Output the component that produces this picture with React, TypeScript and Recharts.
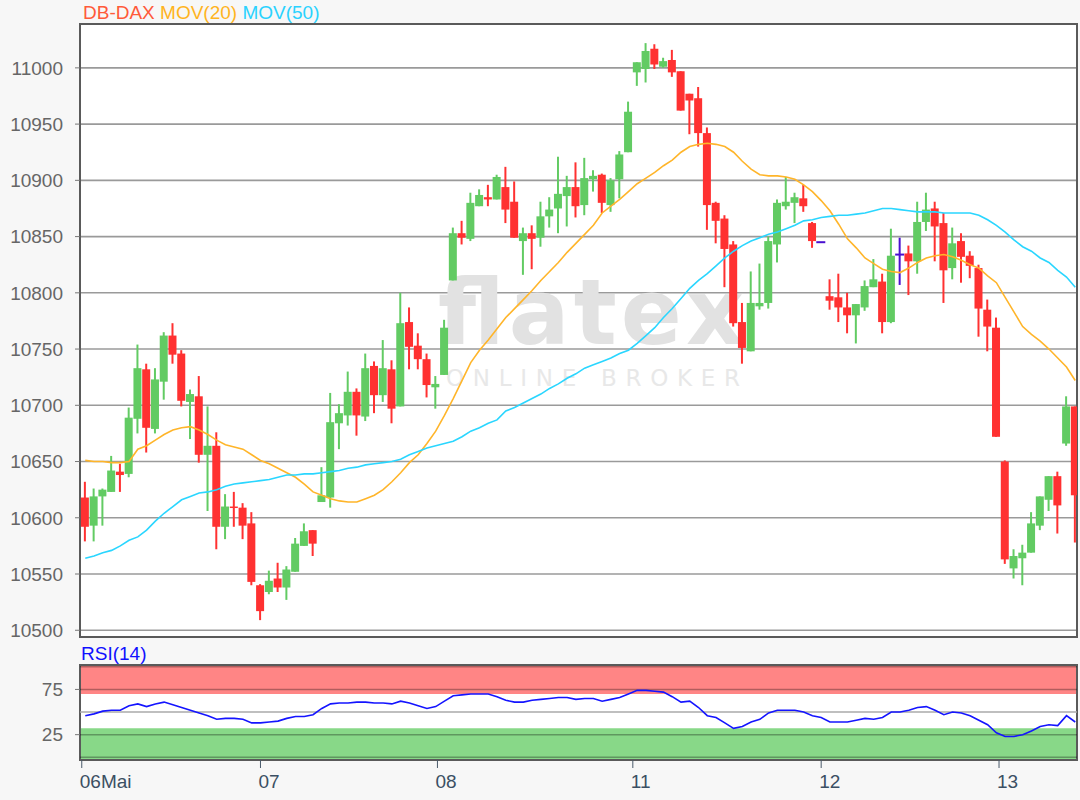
import {
  Bar,
  CartesianGrid,
  ComposedChart,
  Line,
  ReferenceArea,
  ReferenceLine,
  XAxis,
  YAxis,
} from "recharts"

/* ---------- data ---------- */

const opens = [
  10618, 10593, 10619, 10623, 10641, 10639, 10688, 10732, 10679, 10721,
  10762, 10746, 10703, 10708, 10656, 10664, 10592, 10610, 10609, 10595,
  10540, 10534, 10546, 10538, 10552, 10575, 10589, 10614, 10618, 10684,
  10691, 10712, 10690, 10735, 10709, 10732, 10699, 10774, 10753, 10741,
  10716, 10727, 10811, 10853, 10848, 10877, 10885, 10883, 10894, 10881,
  10846, 10853, 10849, 10868, 10875, 10886, 10894, 10878, 10901, 10905,
  10878, 10901, 10925, 10996, 10999, 11017, 11001, 11007, 10997, 10977,
  10973, 10942, 10880, 10866, 10843, 10774, 10748, 10788, 10791, 10843,
  10877, 10880, 10884, 10862, 10845, 10797, 10796, 10787, 10780, 10787,
  10805, 10810, 10774, 10834, 10835, 10828, 10863, 10875, 10862, 10822,
  10846, 10833, 10822, 10785, 10769, 10650, 10555, 10564, 10569, 10593,
  10616, 10637, 10666, 10699,
]

const highs = [
  10632, 10626, 10626, 10655, 10648, 10698, 10754, 10737, 10733, 10765,
  10773, 10749, 10714, 10726, 10699, 10676, 10621, 10623, 10613, 10605,
  10541, 10553, 10560, 10557, 10582, 10595, 10589, 10645, 10711, 10701,
  10730, 10715, 10746, 10739, 10758, 10740, 10800, 10787, 10764, 10746,
  10726, 10776, 10858, 10864, 10889, 10892, 10896, 10905, 10912, 10899,
  10858, 10860, 10881, 10885, 10921, 10904, 10916, 10920, 10909, 10906,
  10902, 10926, 10970, 11005, 11022, 11021, 11009, 11016, 10997, 10977,
  10983, 10947, 10881, 10869, 10846, 10791, 10819, 10826, 10850, 10883,
  10903, 10889, 10896, 10863, 10845, 10812, 10817, 10800, 10790, 10811,
  10830, 10817, 10857, 10849, 10842, 10881, 10889, 10881, 10871, 10858,
  10853, 10837, 10825, 10794, 10778, 10651, 10572, 10576, 10605, 10619,
  10637, 10641, 10708, 10699,
]

const lows = [
  10579, 10579, 10593, 10623, 10623, 10636, 10675, 10658, 10675, 10705,
  10737, 10699, 10670, 10649, 10606, 10572, 10581, 10592, 10581, 10540,
  10509, 10532, 10534, 10527, 10552, 10575, 10566, 10614, 10609, 10661,
  10682, 10673, 10686, 10693, 10703, 10684, 10699, 10732, 10732, 10707,
  10697, 10727, 10811, 10843, 10846, 10877, 10877, 10883, 10862, 10849,
  10816, 10821, 10841, 10858, 10853, 10859, 10867, 10869, 10890, 10871,
  10872, 10884, 10925, 10984, 10987, 10999, 11000, 10992, 10962, 10941,
  10930, 10856, 10844, 10805, 10770, 10737, 10748, 10785, 10786, 10827,
  10874, 10862, 10872, 10840, 10845, 10785, 10774, 10764, 10755, 10784,
  10805, 10764, 10773, 10807, 10798, 10817, 10855, 10828, 10791, 10812,
  10809, 10813, 10761, 10748, 10672, 10559, 10546, 10540, 10569, 10589,
  10606, 10586, 10664, 10578,
]

const closes = [
  10592, 10619, 10625, 10642, 10638, 10689, 10733, 10680, 10723, 10762,
  10745, 10704, 10710, 10656, 10664, 10592, 10610, 10609, 10593, 10543,
  10517, 10544, 10538, 10554, 10577, 10588, 10577, 10620, 10685, 10693,
  10712, 10691, 10733, 10709, 10733, 10697, 10773, 10752, 10741, 10718,
  10719, 10769, 10853, 10849, 10880, 10887, 10883, 10903, 10874, 10849,
  10853, 10848, 10868, 10874, 10888, 10894, 10877, 10902, 10904, 10880,
  10900, 10923, 10961, 11005, 11015, 11003, 11006, 10996, 10962, 10971,
  10942, 10878, 10864, 10839, 10773, 10751, 10791, 10791, 10846, 10880,
  10881, 10885, 10877, 10846, 10845, 10793, 10787, 10780, 10790, 10806,
  10812, 10774, 10833, 10834, 10828, 10863, 10874, 10859, 10820, 10844,
  10832, 10824, 10786, 10770, 10672, 10563, 10566, 10569, 10595, 10619,
  10637, 10611, 10699, 10620,
]

const ma20 = [
  10651, 10650, 10650, 10649, 10649, 10650, 10661, 10664, 10669, 10674,
  10678, 10680, 10681, 10678, 10674, 10669, 10665, 10663, 10661, 10656,
  10651, 10648, 10644, 10640, 10636, 10630, 10623, 10620, 10617, 10615,
  10614, 10614, 10617, 10620, 10625, 10632, 10640, 10649, 10656, 10666,
  10677, 10691, 10706, 10722, 10738, 10749, 10758, 10768, 10778, 10786,
  10794, 10802, 10811, 10819, 10827, 10836, 10844, 10852, 10860, 10871,
  10877, 10883, 10890, 10897, 10902, 10907, 10913, 10918, 10925, 10930,
  10932, 10933, 10932, 10930, 10925, 10917, 10910, 10905, 10904, 10904,
  10903, 10901, 10896, 10890, 10882, 10873, 10861, 10848, 10840, 10831,
  10826, 10821, 10819, 10818, 10822, 10827, 10831, 10833, 10834, 10832,
  10829, 10825, 10822, 10815, 10809, 10796, 10783, 10770, 10763, 10757,
  10750, 10742, 10734, 10722,
]

const ma50 = [
  10564, 10566, 10569, 10571, 10575, 10580, 10583, 10589, 10597, 10604,
  10610, 10616, 10619, 10622, 10623, 10625, 10628, 10630, 10631, 10632,
  10633, 10634, 10636, 10638, 10638, 10639, 10639, 10640, 10641, 10642,
  10644, 10645, 10647, 10648, 10649, 10650, 10652, 10656, 10659, 10662,
  10664, 10666, 10668, 10672, 10677, 10680, 10684, 10687, 10695, 10698,
  10702, 10706, 10710, 10715, 10719, 10724, 10728, 10733, 10736, 10739,
  10742, 10746, 10749, 10755, 10762, 10769, 10778, 10786, 10795, 10804,
  10811, 10817, 10824, 10831, 10837, 10842, 10846, 10849, 10852, 10854,
  10857, 10860, 10864, 10865, 10867, 10868, 10869, 10869, 10870, 10871,
  10873, 10875, 10875, 10874, 10873, 10872, 10872, 10872, 10871, 10871,
  10871, 10871, 10869, 10865, 10860, 10854, 10847, 10841, 10837, 10831,
  10827, 10820, 10814, 10805,
]

const rsi14 = [
  46, 48, 51, 52, 52, 57, 59, 56, 59, 61,
  58, 55, 52, 49, 46, 42, 43, 43, 42, 38,
  38, 39, 40, 43, 45, 45, 47, 54, 59, 60,
  60, 61, 61, 60, 60, 59, 62, 60, 57, 54,
  56, 62, 68, 69, 70, 70, 70, 67, 63, 61,
  61, 63, 64, 65, 66, 66, 64, 65, 65, 62,
  64, 66, 70, 74, 74, 73, 72, 67, 61, 62,
  55, 46, 44, 38, 32, 34, 39, 42, 49, 52,
  52, 52, 50, 46, 44, 39, 39, 39, 41, 43,
  42, 44, 50, 50, 52, 55, 56, 52, 47, 50,
  49, 46, 41, 36, 27, 23, 23, 25, 29, 34,
  36, 35, 46, 39,
]

const dayTicks = [-0.4, 20, 40.2, 62.5, 84, 104.3]
const dayLabels = ["06Mai", "07", "08", "11", "12", "13"]
const priceTicks = [10500, 10550, 10600, 10650, 10700, 10750, 10800, 10850, 10900, 10950, 11000]
const rsiTicks = [25, 75]
const rsiLines = [0, 25, 75, 100]

const rows = opens.map((o, i) => ({
  i,
  open: o,
  high: highs[i],
  low: lows[i],
  close: closes[i],
  ma20: ma20[i],
  ma50: ma50[i],
  rsi: rsi14[i],
}))

const X_DOMAIN: [number, number] = [-0.6, 113.2]
const P_DOMAIN: [number, number] = [10494, 11039]
const R_DOMAIN: [number, number] = [-3, 102]

const UP = "#62cb63"
const DOWN = "#ff3131"
const FLAT = "#4a10d0"
const FONT = "'Liberation Sans', Arial, sans-serif"

function Candle(props: any) {
  const { x, y, width, height, payload } = props
  if (x == null || y == null || !payload) return null
  const { open, close, high, low } = payload
  const color = close > open ? UP : close < open ? DOWN : FLAT
  const range = high - low
  const h = height || 0
  const at = (v: number) => (range === 0 ? y : y + ((high - v) / range) * h)
  const cx = x + width / 2
  const top = at(Math.max(open, close))
  const bot = at(Math.min(open, close))
  return (
    <g>
      {h > 0 && <line x1={cx} x2={cx} y1={y} y2={y + h} stroke={color} strokeWidth={2} />}
      {open === close ? (
        <line x1={x - 0.5} x2={x + width + 0.5} y1={top} y2={top} stroke={color} strokeWidth={2} />
      ) : (
        <rect x={x} y={top} width={width} height={Math.max(bot - top, 1.5)} fill={color} />
      )}
    </g>
  )
}

export default function App() {
  return (
    <div
      style={{
        position: "absolute",
        left: 0,
        top: 0,
        width: 1080,
        height: 800,
        background: "#f7f7f7",
        fontFamily: FONT,
      }}
    >
      <div style={{ position: "absolute", left: 83, top: 2, fontSize: 19, lineHeight: "22px", whiteSpace: "nowrap" }}>
        <span style={{ color: "#ff5a3a" }}>DB-DAX</span>{" "}
        <span style={{ color: "#ffb41e" }}>MOV(20)</span>{" "}
        <span style={{ color: "#2ad2ff" }}>MOV(50)</span>
      </div>

      <div style={{ position: "absolute", top: 0, left: 0 }}>
        <ComposedChart width={1080} height={640} data={rows} margin={{ top: 24, right: 3, bottom: 3, left: 0 }}>
          <CartesianGrid vertical={false} stroke="#9a9a9a" strokeWidth={1.6} fill="#ffffff" />
          <XAxis type="number" dataKey="i" domain={X_DOMAIN} allowDataOverflow hide />
          <YAxis
            domain={P_DOMAIN}
            allowDataOverflow
            ticks={priceTicks}
            interval={0}
            width={80}
            axisLine={false}
            tickSize={5}
            tickMargin={12}
            tickLine={{ stroke: "#777" }}
            tick={{ fill: "#666", fontSize: 19, fontFamily: FONT }}
          />
          <text
            x={438}
            y={344}
            textLength={306}
            lengthAdjust="spacing"
            fill="#e2e2e2"
            fontSize={90}
            fontFamily="'DejaVu Sans', sans-serif"
            fontWeight={700}
          >
            flatex
          </text>
          <text
            x={446}
            y={386}
            textLength={294}
            lengthAdjust="spacing"
            fill="#e8e8e8"
            fontSize={23}
            fontFamily="'DejaVu Sans', sans-serif"
          >
            ONLINE BROKER
          </text>
          <Bar
            dataKey={(d: any) => [d.low, d.high]}
            barSize={8}
            shape={<Candle />}
            isAnimationActive={false}
          />
          <Line dataKey="ma20" stroke="#ffb52a" strokeWidth={1.6} dot={false} isAnimationActive={false} />
          <Line dataKey="ma50" stroke="#2ad6ff" strokeWidth={1.6} dot={false} isAnimationActive={false} />
          <ReferenceArea
            x1={X_DOMAIN[0]}
            x2={X_DOMAIN[1]}
            y1={P_DOMAIN[0]}
            y2={P_DOMAIN[1]}
            fill="none"
            stroke="#5a5a5a"
            strokeWidth={2}
            ifOverflow="visible"
          />
        </ComposedChart>
      </div>

      <div style={{ position: "absolute", left: 81, top: 643, fontSize: 19, lineHeight: "22px", color: "#1010ff" }}>
        RSI(14)
      </div>

      <div style={{ position: "absolute", top: 640, left: 0 }}>
        <ComposedChart width={1080} height={160} data={rows} margin={{ top: 25, right: 3, bottom: 10, left: 0 }}>
          <CartesianGrid vertical={false} horizontal={false} fill="#ffffff" />
          <XAxis
            type="number"
            dataKey="i"
            domain={X_DOMAIN}
            allowDataOverflow
            ticks={dayTicks}
            interval={0}
            tickFormatter={(v: number) => dayLabels[dayTicks.indexOf(v)] ?? ""}
            height={30}
            axisLine={{ stroke: "#5a5a5a", strokeWidth: 2 }}
            tickSize={8}
            tickMargin={7}
            tickLine={{ stroke: "#4a5a6a" }}
            tick={{ fill: "#3b4f63", fontSize: 19, fontFamily: FONT, textAnchor: "start", dx: -2 }}
          />
          <YAxis
            domain={R_DOMAIN}
            allowDataOverflow
            ticks={rsiTicks}
            interval={0}
            width={80}
            axisLine={false}
            tickSize={5}
            tickMargin={12}
            tickLine={{ stroke: "#777" }}
            tick={{ fill: "#666", fontSize: 19, fontFamily: FONT }}
          />
          <ReferenceArea y1={70} y2={R_DOMAIN[1]} fill="#ff8585" fillOpacity={1} ifOverflow="hidden" />
          <ReferenceArea y1={R_DOMAIN[0]} y2={32} fill="#88d888" fillOpacity={1} ifOverflow="hidden" />
          {rsiLines.map((v) => (
            <ReferenceLine key={v} y={v} stroke="#000" strokeOpacity={0.3} strokeWidth={1.5} />
          ))}
          <ReferenceLine y={50} stroke="#aaa" strokeWidth={1.5} />
          <Line dataKey="rsi" stroke="#1414ff" strokeWidth={1.6} dot={false} isAnimationActive={false} />
          <ReferenceArea
            x1={X_DOMAIN[0]}
            x2={X_DOMAIN[1]}
            y1={R_DOMAIN[0]}
            y2={R_DOMAIN[1]}
            fill="none"
            stroke="#5a5a5a"
            strokeWidth={2}
            ifOverflow="visible"
          />
        </ComposedChart>
      </div>
    </div>
  )
}
